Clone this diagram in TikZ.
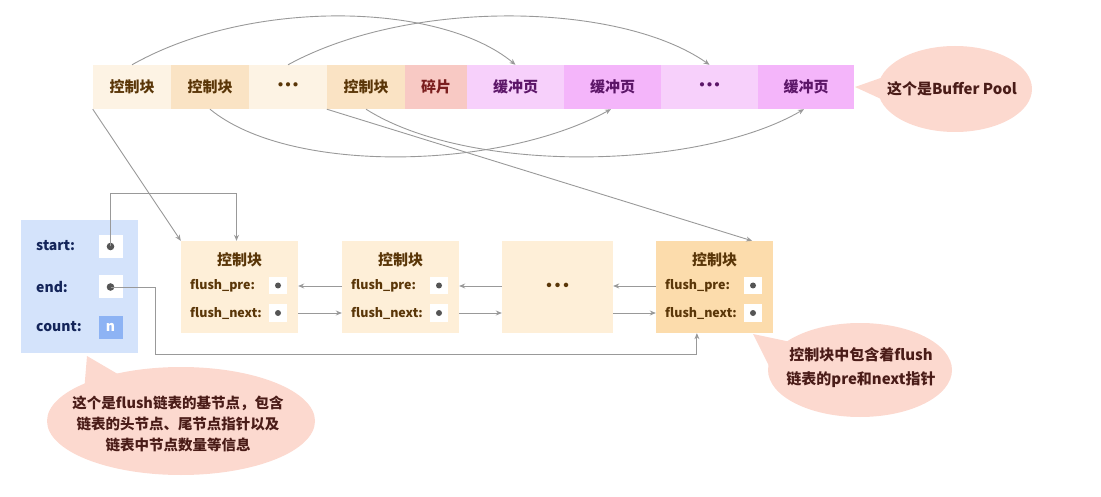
\documentclass[tikz,border=0pt]{standalone}
\usepackage{fontspec}
\setmainfont{Noto Sans CJK SC}
\usetikzlibrary{arrows.meta,calc,shapes.geometric}
\definecolor{cA}{HTML}{FDF3E4}
\definecolor{cB}{HTML}{FAE3C4}
\definecolor{frag}{HTML}{F8C9C4}
\definecolor{bA}{HTML}{F7D0FB}
\definecolor{bB}{HTML}{F4B5FA}
\definecolor{cbL}{HTML}{FEEFD8}
\definecolor{cbD}{HTML}{FCDCAC}
\definecolor{blueL}{HTML}{D4E3FB}
\definecolor{blueN}{HTML}{8DB3F4}
\definecolor{brownT}{HTML}{5A3608}
\definecolor{fragT}{HTML}{7A1E1E}
\definecolor{purT}{HTML}{5C1668}
\definecolor{navyT}{HTML}{14255A}
\definecolor{callF}{HTML}{FCD9CF}
\definecolor{callT}{HTML}{4A1C18}
\definecolor{lnC}{HTML}{999999}
\definecolor{dotC}{HTML}{555555}
\newcommand{\tdots}{·\kern-7.5pt·\kern-7.5pt·}
\begin{document}
\begin{tikzpicture}[x=1pt,y=-1pt,
  cell/.style={minimum height=44pt, inner sep=0pt, font=\bfseries\fontsize{15}{16}\selectfont},
  cbox/.style={minimum width=117pt, minimum height=92pt, inner sep=0pt},
  cbtitle/.style={text=brownT, font=\bfseries\fontsize{15}{16}\selectfont, inner sep=0pt},
  cblab/.style={text=brownT, anchor=west, font=\bfseries\fontsize{12.5}{13}\selectfont, inner sep=0pt},
  pbox/.style={fill=white, minimum width=18pt, minimum height=17pt, inner sep=0pt},
  sbox/.style={fill=white, minimum width=24pt, minimum height=23pt, inner sep=0pt},
  blab/.style={text=navyT, anchor=west, font=\bfseries\fontsize{14}{15}\selectfont, inner sep=0pt},
  arr/.style={draw=lnC, line width=0.9pt, -{Stealth[length=6pt,width=5pt]}},
  calltext/.style={text=callT, font=\bfseries\fontsize{15}{21}\selectfont, align=center, inner sep=0pt}
]
\useasboundingbox (0,0) rectangle (1101,497);
% ---------- top bar ----------
\node[cell, fill=cA, minimum width=78pt, text=brownT] (c1) at (132,87) {控制块};
\node[cell, fill=cB, minimum width=78pt, text=brownT] (c2) at (210,87) {控制块};
\node[cell, fill=cA, minimum width=78pt, text=brownT] (c3) at (288,87) {\tdots};
\node[cell, fill=cB, minimum width=78pt, text=brownT] (c4) at (366,87) {控制块};
\node[cell, fill=frag, minimum width=62pt, text=fragT] (c5) at (436,87) {碎片};
\node[cell, fill=bA, minimum width=97pt, text=purT] (c6) at (515.5,87) {缓冲页};
\node[cell, fill=bB, minimum width=97pt, text=purT] (c7) at (612.5,87) {缓冲页};
\node[cell, fill=bA, minimum width=97pt, text=purT] (c8) at (709.5,87) {\tdots};
\node[cell, fill=bB, minimum width=96pt, text=purT] (c9) at (806,87) {缓冲页};
% arcs
\draw[arr] (c1.north) .. controls (250,-2) and (440,2) .. (c6.north);
\draw[arr] (c3.north) .. controls (410,-2) and (620,2) .. (c8.north);
\draw[arr] (c2.south) .. controls (290,175) and (500,170) .. ($(c7.south)+(-1.5,0)$);
\draw[arr] (c4.south) .. controls (470,175) and (700,170) .. ($(c9.south)+(-2,0)$);
% ---------- base node ----------
\node[fill=blueL, minimum width=117pt, minimum height=133pt, inner sep=0pt] (base) at (79.5,286.5) {};
\node[blab] (ls) at (36,246) {start:};
\node[blab] (le) at (36,287) {end:};
\node[blab] (lc) at (36,327) {count:};
\node[sbox] (sb) at (110.5,246.5) {};
\node[sbox] (eb) at (110.5,287) {};
\node[sbox, fill=blueN, text=white, font=\bfseries\fontsize{14}{15}\selectfont] (nb) at (110.5,327.5) {n};
\fill[dotC] (sb.center) circle (3.8pt);
\fill[dotC] (eb.center) circle (3.8pt);
% ---------- control blocks ----------
\node[cbox, fill=cbL] (cb1) at (239.5,287) {};
\node[cbox, fill=cbL] (cb2) at (400.5,287) {};
\node[cbox, fill=cbL, minimum width=111pt, text=brownT, font=\bfseries\fontsize{16}{17}\selectfont] (cb3) at (557.5,287) {\tdots};
\node[cbox, fill=cbD] (cb4) at (714.5,287) {};
\foreach \c/\x in {cb1/239.5, cb2/400.5, cb4/714.5}{
  \node[cbtitle] at (\x,260) {控制块};
  \node[cblab] at ($(\x,286)+(-49.5,0)$) {flush\_pre:};
  \node[cblab] at ($(\x,313)+(-49.5,0)$) {flush\_next:};
  \node[pbox] (\c p) at ($(\x,285.5)+(38.5,0)$) {};
  \node[pbox] (\c n) at ($(\x,313)+(38.5,0)$) {};
  \fill[dotC] (\c p.center) circle (3pt);
  \fill[dotC] (\c n.center) circle (3pt);
}
% list arrows
\draw[arr] ([yshift=1pt]cb2.west) -- ([yshift=1pt]cb1.east);
\draw[arr] ([yshift=-26pt]cb1.east) -- ([yshift=-26pt]cb2.west);
\draw[arr] ([yshift=1pt]cb3.west) -- ([yshift=1pt]cb2.east);
\draw[arr] ([yshift=-26pt]cb2.east) -- ([yshift=-26pt]cb3.west);
\draw[arr] ([yshift=1pt]cb4.west) -- ([yshift=1pt]cb3.east);
\draw[arr] ([yshift=-26pt]cb3.east) -- ([yshift=-26pt]cb4.west);
% pointers from base node
\draw[arr] (sb.center) -- ++(0,-53) -| ([xshift=-3pt]cb1.north);
\draw[arr] (eb.center) -- ++(44.5,0) -- ++(0,67) -| ($(cb4.south west)!0.35!(cb4.south east)$);
% pointers from top bar
\draw[arr] (c1.south west) -- (cb1.north west);
\draw[arr] (c4.south west) -- ($(cb4.north west)!0.82!(cb4.north east)$);
% ---------- callouts ----------
\fill[callF] (955,89) ellipse [x radius=77, y radius=43];
\fill[callF] (855,87) -- (892,74) -- (892,104) -- cycle;
\node[calltext] (t1) at (952,89) {这个是Buffer Pool};

\fill[callF] (181,421) ellipse [x radius=134, y radius=54];
\fill[callF] (87,356) -- (84,392) -- (128,380) -- cycle;
\node[calltext, font=\bfseries\fontsize{14.5}{21}\selectfont] (t2) at (178,424) {这个是flush链表的基节点，包含\\链表的头节点、尾节点指针以及\\链表中节点数量等信息};

\fill[callF] (860,370) ellipse [x radius=92, y radius=47];
\fill[callF] (753,334) -- (772,372) -- (805,345) -- cycle;
\node[calltext, font=\bfseries\fontsize{15}{24}\selectfont] (t3) at (861,368) {控制块中包含着flush\\链表的pre和next指针};
\end{tikzpicture}
\end{document}
